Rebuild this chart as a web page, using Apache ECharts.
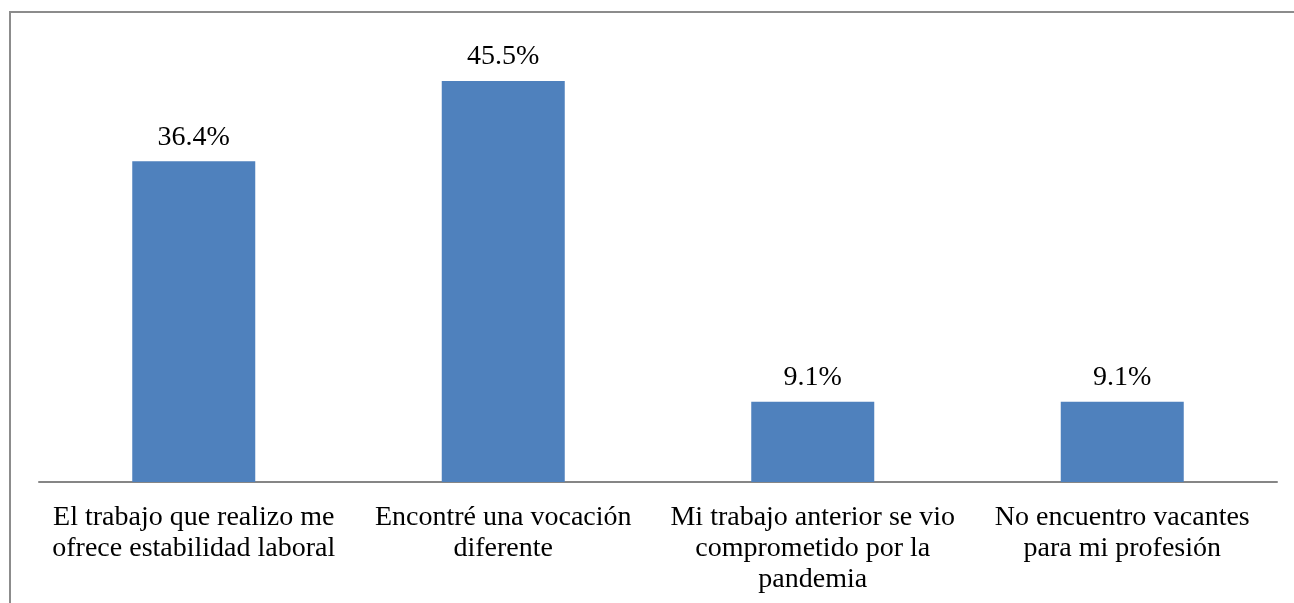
<!DOCTYPE html>
<html>
<head>
<meta charset="utf-8">
<script src="https://cdn.jsdelivr.net/npm/echarts@6/dist/echarts.min.js"></script>
<style>
  html, body { margin: 0; padding: 0; background: #fff; }
  #frame {
    position: absolute; left: 9px; top: 11px; width: 1300px; height: 700px;
    border-top: 2px solid #8c8c8c; border-left: 2px solid #8c8c8c;
  }
  #chart { position: absolute; left: 0; top: 0; width: 1294px; height: 603px; }
</style>
</head>
<body>
<div id="frame"></div>
<div id="chart"></div>
<script>
const categories = [
  "El trabajo que realizo me\nofrece estabilidad laboral",
  "Encontré una vocación\ndiferente",
  "Mi trabajo anterior se vio\ncomprometido por la\npandemia",
  "No encuentro vacantes\npara mi profesión"
];
const values = [36.4, 45.5, 9.1, 9.1];

const fontFamily = '"Liberation Serif", "DejaVu Serif", serif';

const chart = echarts.init(document.getElementById("chart"));
const option = {
  animation: false,
  grid: {
    left: 39,
    right: 17,
    top: 41.4,
    bottom: 121,
    containLabel: false
  },
  xAxis: {
    type: "category",
    data: categories,
    axisLine: { lineStyle: { color: "#868686", width: 2 } },
    axisTick: { show: false },
    axisLabel: {
      interval: 0,
      margin: 20,
      color: "#000",
      fontSize: 28,
      lineHeight: 31,
      fontFamily: fontFamily
    }
  },
  yAxis: {
    type: "value",
    min: 0,
    max: 50,
    show: false
  },
  series: [
    {
      type: "bar",
      data: values,
      barWidth: 123,
      itemStyle: { color: "#4F81BD" },
      label: {
        show: true,
        position: "top",
        distance: 10,
        color: "#000",
        fontSize: 28,
        fontFamily: fontFamily,
        formatter: (p) => p.value.toFixed(1) + "%"
      }
    }
  ]
};
chart.setOption(option);
</script>
</body>
</html>
